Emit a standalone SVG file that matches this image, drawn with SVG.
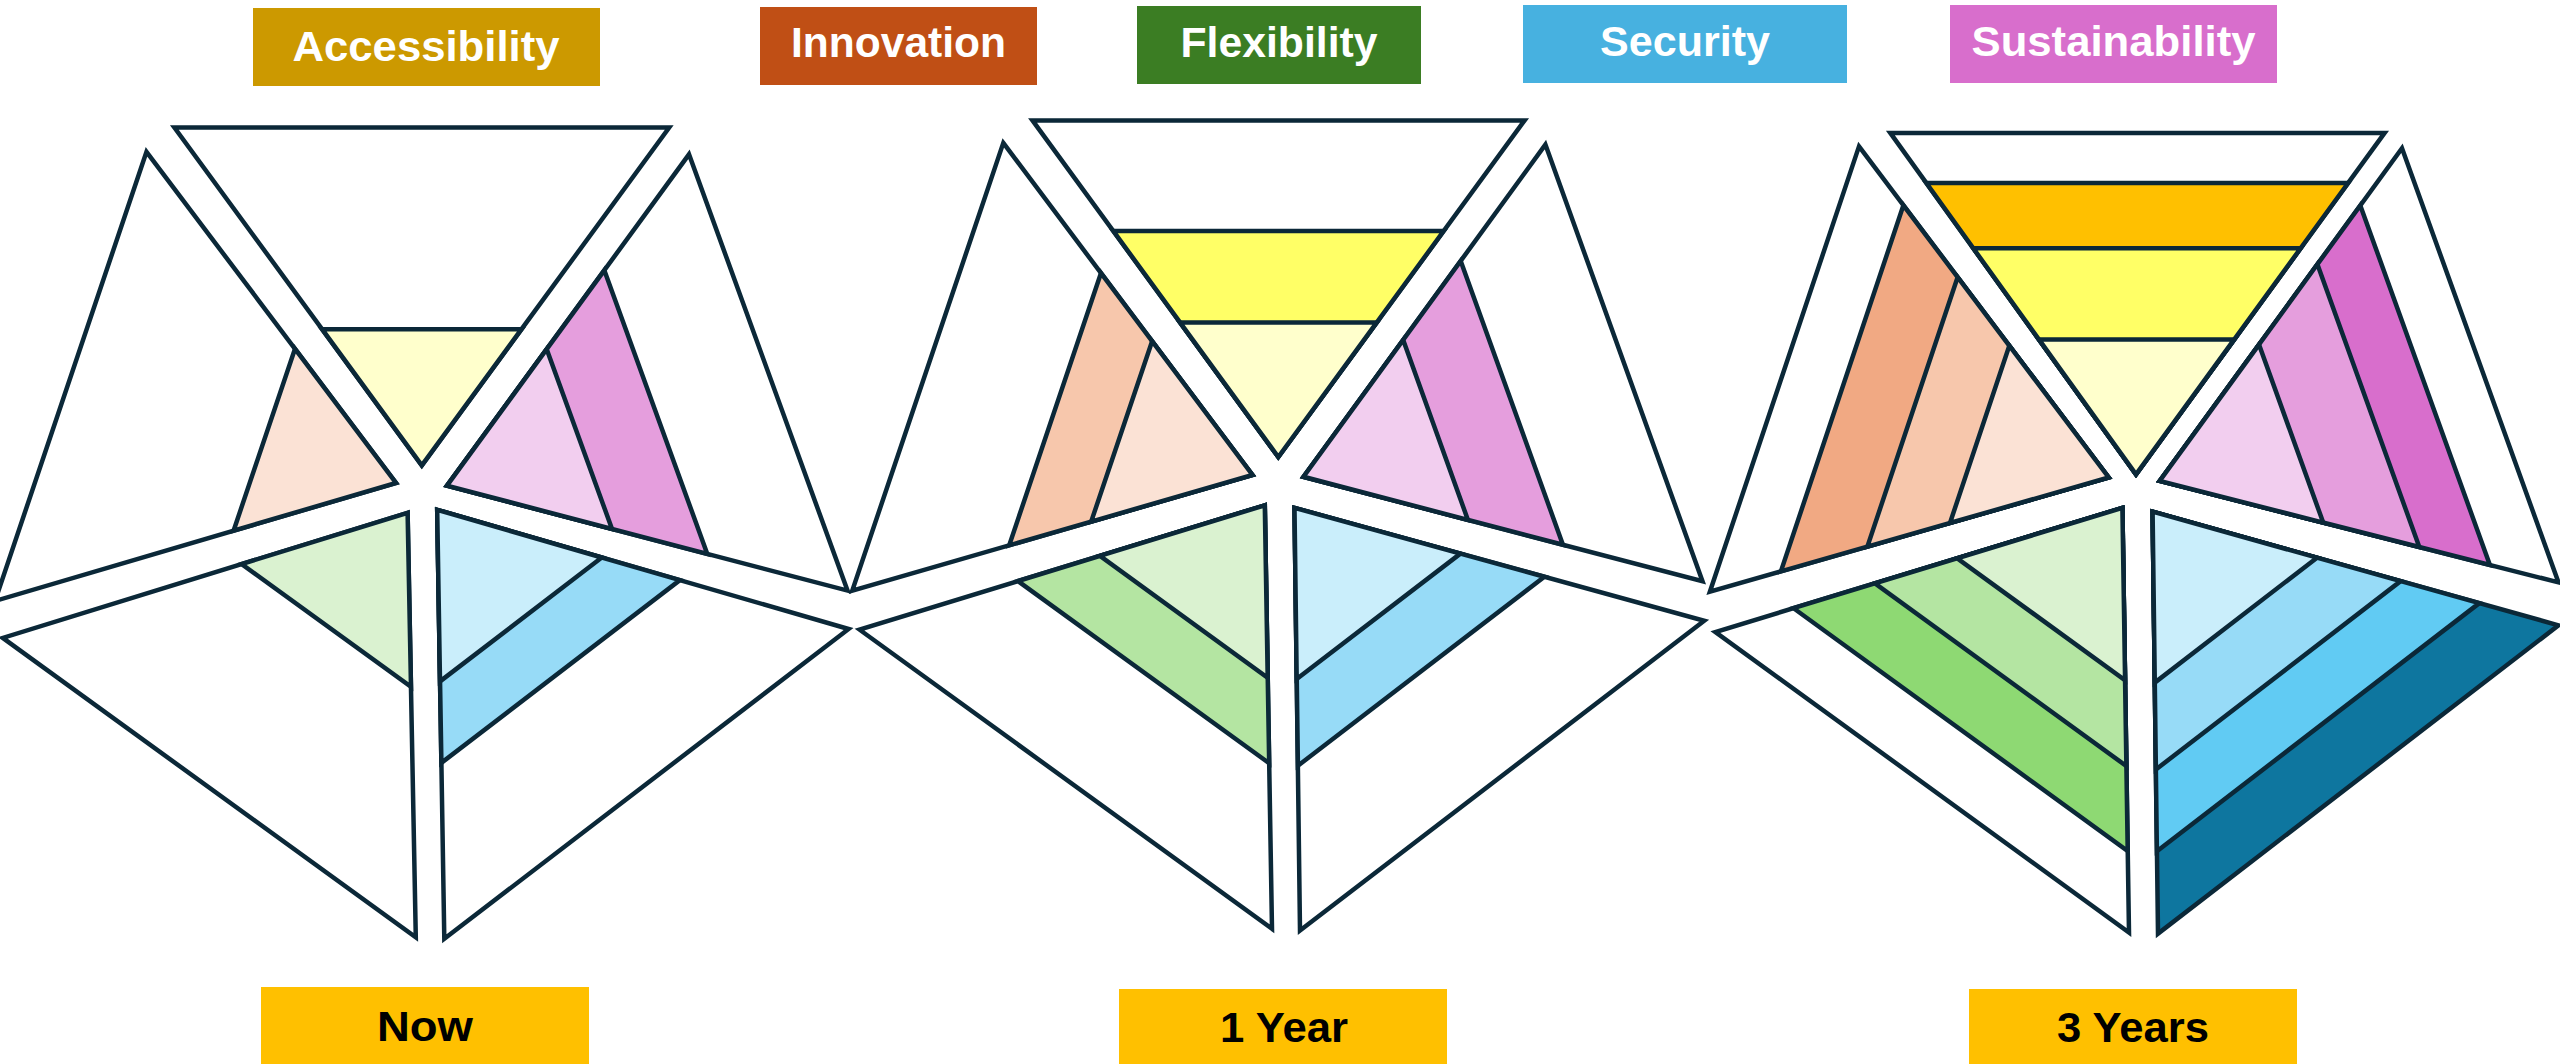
<svg xmlns="http://www.w3.org/2000/svg" width="2560" height="1064" viewBox="0 0 2560 1064">
<style>
.e{stroke:#0B2838;stroke-width:4.5;stroke-linejoin:miter;stroke-miterlimit:6}
.w{fill:#FFFFFF}
.y1{fill:#FFFFCC}.y2{fill:#FFFF66}.y3{fill:#FFC000}
.o1{fill:#FBE2D5}.o2{fill:#F7C7AC}.o3{fill:#F1A983}
.p1{fill:#F2CEEF}.p2{fill:#E59EDD}.p3{fill:#D86ECC}
.g1{fill:#DAF2D0}.g2{fill:#B4E5A2}.g3{fill:#8ED973}
.b1{fill:#CAEEFB}.b2{fill:#97DBF7}.b3{fill:#61CBF3}.b4{fill:#0E769F}
.lt{font-family:"Liberation Sans",Arial,sans-serif;font-weight:bold;font-size:42px;fill:#FFFFFF;text-anchor:middle}
.bt{font-family:"Liberation Sans",Arial,sans-serif;font-weight:bold;font-size:42px;fill:#000000;text-anchor:middle}
</style>
<rect width="2560" height="1064" fill="#FFFFFF"/>

<g id="label-accessibility"><rect x="253" y="8" width="347" height="78" fill="#CC9900"/><text class="lt" x="426" y="61" textLength="267" lengthAdjust="spacingAndGlyphs">Accessibility</text></g>
<g id="label-innovation"><rect x="760" y="7" width="277" height="78" fill="#C04F15"/><text class="lt" x="898.5" y="57" textLength="215" lengthAdjust="spacingAndGlyphs">Innovation</text></g>
<g id="label-flexibility"><rect x="1137" y="6" width="284" height="78" fill="#3B7D23"/><text class="lt" x="1279" y="57" textLength="197" lengthAdjust="spacingAndGlyphs">Flexibility</text></g>
<g id="label-security"><rect x="1523" y="5" width="324" height="78" fill="#47B1E0"/><text class="lt" x="1685" y="56" textLength="170" lengthAdjust="spacingAndGlyphs">Security</text></g>
<g id="label-sustainability"><rect x="1950" y="5" width="327" height="78" fill="#D86ECC"/><text class="lt" x="2113.5" y="55.5" textLength="284" lengthAdjust="spacingAndGlyphs">Sustainability</text></g>

<g id="label-now"><rect x="261" y="987" width="328" height="77" fill="#FFC000"/><text class="bt" x="425" y="1040.5" textLength="96" lengthAdjust="spacingAndGlyphs">Now</text></g>
<g id="label-1year"><rect x="1119" y="989" width="328" height="75" fill="#FFC000"/><text class="bt" x="1284" y="1042" textLength="128" lengthAdjust="spacingAndGlyphs">1 Year</text></g>
<g id="label-3years"><rect x="1969" y="989" width="328" height="75" fill="#FFC000"/><text class="bt" x="2133" y="1041.5" textLength="152" lengthAdjust="spacingAndGlyphs">3 Years</text></g>

<!-- Diagram 1: Now -->
<g id="now">
  <g id="now-accessibility">
    <polygon class="e w" points="174.4,127.5 669.2,127.5 421.8,465.4"/>
    <polygon class="e y1" points="322.1,329.2 521.5,329.2 421.8,465.4"/>
  </g>
  <g id="now-innovation">
    <polygon class="e w" points="146.5,151.8 396,482.9 -5,601"/>
    <polygon class="e o1" points="396,482.9 295.0,348.8 233.6,530.7"/>
  </g>
  <g id="now-sustainability">
    <polygon class="e w" points="689,154.3 847.5,590.6 447,485.7"/>
    <polygon class="e p2" points="447,485.7 604.3,270.3 707.3,553.9"/>
    <polygon class="e p1" points="447,485.7 546.7,349.2 612.0,528.9"/>
  </g>
  <g id="now-flexibility">
    <polygon class="e w" points="407.6,512.8 2.7,637.9 415.8,937.4"/>
    <polygon class="e g1" points="407.6,512.8 241.6,564.1 411.0,686.9"/>
  </g>
  <g id="now-security">
    <polygon class="e w" points="437.2,509.8 848.6,629 444.3,938.8"/>
    <polygon class="e b2" points="437.2,509.8 679.9,580.1 441.4,762.9"/>
    <polygon class="e b1" points="437.2,509.8 601.8,557.5 440.0,681.4"/>
  </g>
</g>

<!-- Diagram 2: 1 Year -->
<g id="year1">
  <g id="year1-accessibility">
    <polygon class="e w" points="1032.5,120.4 1524.6,120.4 1278.3,457"/>
    <polygon class="e y2" points="1113.4,231.1 1443.6,231.1 1278.3,457"/>
    <polygon class="e y1" points="1180.0,322.4 1376.8,322.4 1278.3,457"/>
  </g>
  <g id="year1-innovation">
    <polygon class="e w" points="1003.3,142.9 1252.5,475 852.3,590.6"/>
    <polygon class="e o2" points="1252.5,475 1101.0,273.1 1009.2,545.3"/>
    <polygon class="e o1" points="1252.5,475 1152.1,341.2 1091.2,521.6"/>
  </g>
  <g id="year1-sustainability">
    <polygon class="e w" points="1545.4,144.6 1702.5,581.3 1303.5,476.8"/>
    <polygon class="e p2" points="1303.5,476.8 1460.7,260.9 1562.9,544.7"/>
    <polygon class="e p1" points="1303.5,476.8 1403.2,339.9 1467.9,519.9"/>
  </g>
  <g id="year1-flexibility">
    <polygon class="e w" points="1264.8,505.3 859.6,629.7 1272,928.8"/>
    <polygon class="e g2" points="1264.8,505.3 1018.0,581.1 1269.2,763.2"/>
    <polygon class="e g1" points="1264.8,505.3 1099.9,555.9 1267.7,677.7"/>
  </g>
  <g id="year1-security">
    <polygon class="e w" points="1294.5,507.9 1704.2,620.8 1300,930.6"/>
    <polygon class="e b2" points="1294.5,507.9 1544.4,576.8 1297.9,765.7"/>
    <polygon class="e b1" points="1294.5,507.9 1460.4,553.6 1296.7,679.1"/>
  </g>
</g>

<!-- Diagram 3: 3 Years -->
<g id="year3">
  <g id="year3-accessibility">
    <polygon class="e w" points="1890.3,132.9 2384.6,132.9 2136,474.3"/>
    <polygon class="e y3" points="1926.4,183.1 2348.1,183.1 2136,474.3"/>
    <polygon class="e y2" points="1973.3,248.3 2300.6,248.3 2136,474.3"/>
    <polygon class="e y1" points="2038.9,339.4 2234.2,339.4 2136,474.3"/>
  </g>
  <g id="year3-innovation">
    <polygon class="e w" points="1859,146.4 2108.7,477.5 1709.9,591.7"/>
    <polygon class="e o3" points="2108.7,477.5 1903.4,205.3 1780.9,571.4"/>
    <polygon class="e o2" points="2108.7,477.5 1957.6,277.2 1867.4,546.6"/>
    <polygon class="e o1" points="2108.7,477.5 2009.3,345.7 1950.0,523.0"/>
  </g>
  <g id="year3-sustainability">
    <polygon class="e w" points="2402,148.2 2558.5,582.4 2159.7,481"/>
    <polygon class="e p3" points="2159.7,481 2360.3,205.4 2489.9,565.0"/>
    <polygon class="e p2" points="2159.7,481 2317.4,264.3 2419.3,547.0"/>
    <polygon class="e p1" points="2159.7,481 2259.0,344.6 2323.2,522.6"/>
  </g>
  <g id="year3-flexibility">
    <polygon class="e w" points="2122.4,507.9 1715.4,632 2129,932.5"/>
    <polygon class="e g3" points="2122.4,507.9 1793.5,608.2 2127.7,851.0"/>
    <polygon class="e g2" points="2122.4,507.9 1874.9,583.4 2126.4,766.1"/>
    <polygon class="e g1" points="2122.4,507.9 1957.2,558.3 2125.1,680.3"/>
  </g>
  <g id="year3-security">
    <polygon class="e b4" points="2152.6,511.7 2558.5,625.3 2158,933.6"/>
    <polygon class="e b3" points="2152.6,511.7 2479.3,603.1 2156.9,851.3"/>
    <polygon class="e b2" points="2152.6,511.7 2400.6,581.1 2155.9,769.5"/>
    <polygon class="e b1" points="2152.6,511.7 2317.0,557.7 2154.8,682.6"/>
  </g>
</g>
</svg>
